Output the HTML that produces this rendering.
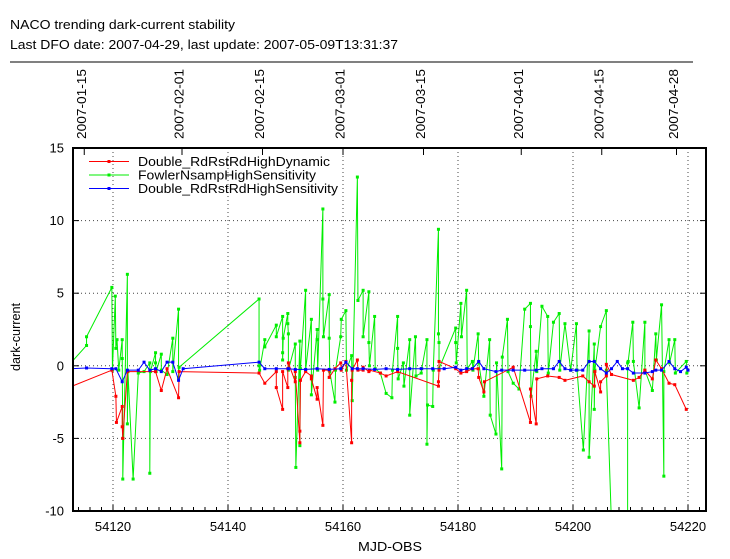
<!DOCTYPE html>
<html><head><meta charset="utf-8"><style>
body{margin:0;background:#fff;width:730px;height:554px;overflow:hidden;font-family:"Liberation Sans",sans-serif}
svg text{font-family:"Liberation Sans",sans-serif;fill:#000}
</style></head><body>
<svg id="chart" width="730" height="554" xmlns="http://www.w3.org/2000/svg">
<text x="10" y="29" font-size="13" textLength="225" lengthAdjust="spacingAndGlyphs">NACO trending dark-current stability</text>
<text x="10" y="49" font-size="13" textLength="388" lengthAdjust="spacingAndGlyphs">Last DFO date: 2007-04-29, last update: 2007-05-09T13:31:37</text>
<line x1="10" y1="62" x2="693" y2="62" stroke="#000" stroke-width="1"/>
<g id="grid"></g><g id="axes"></g>
<defs><clipPath id="clip"><rect x="73" y="148" width="633" height="363"/></clipPath></defs>
<g id="series" clip-path="url(#clip)"></g>
<rect x="73" y="148" width="633" height="363" fill="none" stroke="#000" stroke-width="2"/>
<g id="legend"></g>
<text x="20" y="337" font-size="13" textLength="68" lengthAdjust="spacingAndGlyphs" transform="rotate(-90 20 337)" text-anchor="middle">dark-current</text>
<text x="358" y="551" font-size="13" textLength="64" lengthAdjust="spacingAndGlyphs">MJD-OBS</text>
</svg>
<script>
const xTicks=[54120,54140,54160,54180,54200,54220];
const yTicks=[-10,-5,0,5,10,15];
const dateTicks=[54115,54132,54146,54160,54174,54191,54205,54218];
const dateLabels=["2007-01-15","2007-02-01","2007-02-15","2007-03-01","2007-03-15","2007-04-01","2007-04-15","2007-04-28"];
const seriesNames=["Double_RdRstRdHighDynamic","FowlerNsampHighSensitivity","Double_RdRstRdHighSensitivity"];
const seriesColors=["#ff0000","#00ee00","#0000ff"];
const legendWidths=[192,178,200];
const greenX=[54112.9,54115.4,54115.4,54119.8,54119.9,54120.4,54120.5,54120.7,54121.0,54121.6,54121.6,54121.7,54121.7,54122.5,54122.5,54122.6,54123.5,54124.4,54125.4,54126.4,54126.4,54126.5,54127.4,54127.4,54127.5,54128.4,54128.4,54129.4,54130.4,54130.4,54131.4,54131.4,54131.5,54145.4,54145.4,54145.5,54146.4,54146.4,54148.4,54148.4,54149.5,54149.5,54149.5,54149.6,54150.4,54150.4,54150.5,54150.5,54151.7,54151.7,54151.8,54152.5,54152.5,54152.6,54153.5,54153.5,54154.5,54154.5,54155.5,54155.5,54155.6,54156.5,54156.5,54156.6,54157.6,54157.6,54157.7,54158.6,54158.7,54159.6,54159.7,54160.5,54160.6,54161.5,54161.6,54162.5,54162.6,54163.5,54163.5,54164.5,54164.5,54164.6,54165.5,54165.6,54166.5,54167.5,54168.5,54168.6,54169.5,54169.5,54169.6,54170.5,54170.6,54171.6,54171.6,54172.6,54172.7,54173.6,54173.7,54174.6,54174.6,54174.7,54175.6,54175.7,54176.6,54176.6,54176.7,54176.7,54179.6,54179.6,54179.7,54180.5,54180.6,54181.5,54181.6,54182.5,54182.6,54183.5,54183.6,54184.5,54185.5,54185.6,54186.6,54186.7,54187.6,54187.7,54188.6,54188.7,54189.6,54190.6,54191.6,54192.6,54192.6,54192.7,54193.6,54193.7,54194.6,54195.6,54195.7,54196.6,54197.6,54197.7,54198.6,54199.6,54200.6,54200.7,54201.8,54202.8,54202.8,54203.7,54203.7,54203.8,54204.8,54205.8,54205.8,54206.7,54209.5,54209.5,54209.6,54210.4,54210.5,54211.5,54212.5,54212.5,54213.8,54214.4,54214.5,54215.4,54215.8,54215.8,54216.7,54216.8,54217.7,54217.8,54219.7,54219.8];
const greenY=[0.3,1.4,2.0,5.4,-0.3,4.8,1.2,1.8,-0.3,1.8,0.5,-5.0,-7.8,6.3,-4.0,-0.4,-7.8,-0.5,-0.4,0.2,-7.4,-0.4,0.9,0.2,-0.4,0.8,-0.3,-0.6,1.9,-0.4,3.9,-0.8,-0.1,4.6,0,-0.3,1.8,1.3,2.8,2.0,3.4,0.9,0.4,1.9,3.6,2.9,2.2,-0.3,1.5,-0.8,-7.0,1.7,-5.5,-0.2,5.2,-0.3,3.2,-2.0,2.5,1.8,-0.3,10.8,4.6,2.0,4.9,1.9,-0.4,-2.5,-0.3,2.0,3.2,3.8,-0.3,0.7,-2.4,13.0,4.5,5.2,2.0,5.1,1.6,0,3.4,-0.2,-0.5,-1.9,-2.2,-0.3,3.4,1.2,-0.9,0.2,-1.4,1.8,-3.4,2.0,-0.7,-0.5,-0.2,1.8,-5.4,-2.7,-2.8,-0.3,9.4,2.2,1.6,-0.2,2.6,1.6,0.2,4.3,2.0,5.2,-0.2,0.3,-0.3,2.2,0.2,-2.1,1.8,-3.4,-4.7,0.2,-7.1,0.6,3.2,-0.4,-1.2,-1.6,3.9,4.3,2.7,-2.1,1.0,-0.4,4.1,3.4,-0.5,3.0,3.6,-0.3,2.9,-0.3,2.9,-0.3,-5.8,2.4,-6.3,1.5,-3.0,-0.3,2.7,3.8,-0.3,-11,-11,0.2,0.3,3.0,0.3,-2.9,3.0,-0.3,-1.7,2.2,0.4,4.2,-7.6,-0.4,1.8,0.2,1.8,-0.5,0.3,-0.5];
const redX=[54112.9,54119.8,54120.5,54120.6,54121.6,54121.6,54121.7,54122.5,54127.4,54128.4,54129.4,54131.4,54131.5,54145.4,54146.4,54148.4,54148.4,54149.5,54149.5,54150.4,54150.4,54150.5,54151.7,54151.7,54152.5,54152.5,54152.6,54153.5,54154.5,54154.5,54155.5,54155.5,54156.5,54156.6,54157.6,54157.6,54158.6,54159.6,54159.7,54160.5,54161.5,54161.5,54161.6,54162.5,54162.6,54163.5,54163.5,54164.5,54164.6,54166.5,54167.5,54169.5,54176.6,54176.6,54176.7,54176.7,54179.6,54180.5,54181.5,54182.5,54183.5,54183.6,54184.5,54184.6,54189.6,54192.6,54192.6,54193.6,54193.7,54195.6,54197.6,54198.6,54201.7,54202.8,54203.7,54203.8,54204.8,54204.8,54205.8,54205.8,54206.7,54210.5,54211.5,54212.5,54213.8,54214.4,54215.4,54216.7,54217.7,54219.7];
const redY=[-1.4,-0.3,-2.1,-3.9,-2.8,-4.2,-5.0,-0.4,-0.4,-1.7,-0.2,-2.2,-0.4,-0.5,-1.2,-0.4,-1.5,-3.0,-0.4,-1.5,-0.2,0.2,-1.1,-0.4,-5.3,-4.5,-1.0,-0.4,-0.7,-0.9,-2.3,-1.5,-4.1,-0.3,-0.3,-0.8,-0.2,0.2,-0.3,0.3,-5.3,-1.0,-0.3,0.4,-0.3,-0.3,-0.1,-0.4,-0.3,-0.5,-0.7,-0.4,-1.4,-1.1,-0.3,0.3,-0.2,-0.5,-0.4,-0.2,-0.2,-0.8,-1.8,-1.1,-0.1,-3.9,-1.6,-4.0,-0.9,-0.7,-0.8,-1.0,-0.7,-1.1,-1.4,-0.4,-1.8,-1.1,-0.7,0.1,-0.6,-1.0,-0.8,-0.3,-0.9,0.4,-0.2,-1.2,-1.3,-3.0];
const blueX=[54112.9,54115.4,54119.8,54120.5,54121.6,54122.5,54124.4,54125.4,54126.4,54127.4,54128.4,54129.4,54130.4,54131.4,54132.2,54145.4,54146.4,54148.4,54150.5,54151.7,54153.5,54155.5,54157.6,54159.6,54160.5,54161.6,54162.5,54163.5,54165.5,54167.5,54169.5,54171.6,54173.6,54175.6,54177.6,54179.6,54180.5,54181.5,54182.5,54183.6,54184.5,54186.6,54187.6,54189.6,54191.6,54193.6,54194.6,54196.6,54197.6,54198.6,54199.6,54200.6,54201.7,54202.8,54203.7,54204.8,54205.8,54206.7,54207.7,54208.6,54209.5,54210.5,54212.5,54213.8,54214.4,54215.4,54216.7,54217.7,54218.7,54219.7,54220.0];
const blueY=[-0.2,-0.15,-0.2,-0.2,-1.1,-0.3,-0.3,0.25,-0.3,-0.2,-0.4,0.25,0.25,-1.0,-0.2,0.25,-0.2,-0.2,-0.2,-0.25,-0.25,-0.2,-0.25,-0.2,0.25,-0.2,-0.2,-0.2,-0.25,-0.2,-0.25,-0.2,-0.2,-0.2,-0.2,-0.1,-0.3,-0.2,-0.2,0.3,-0.2,-0.4,-0.3,-0.3,-0.3,-0.3,-0.2,-0.2,0.3,-0.2,-0.3,-0.3,-0.3,0.3,0.3,-0.2,-0.5,-0.2,0.3,-0.2,-0.2,-0.5,-0.5,-0.4,-0.3,-0.3,0.3,-0.2,-0.4,-0.1,-0.3];

const NS="http://www.w3.org/2000/svg";
const X=m=>113+(m-54120)*5.75;
const Y=v=>365.8-v*14.52;
function mk(tag,attrs,parent){const e=document.createElementNS(NS,tag);for(const k in attrs)e.setAttribute(k,attrs[k]);parent.appendChild(e);return e;}
const grid=document.getElementById('grid'),axes=document.getElementById('axes'),ser=document.getElementById('series'),leg=document.getElementById('legend');
xTicks.forEach(t=>{const x=X(t);
 if(t>54113&&t<54222){const g=mk('line',{x1:x,y1:148,x2:x,y2:511,stroke:'#444','stroke-dasharray':'1,3','stroke-width':1},grid);
 
 }
 const tx=mk('text',{x:x,y:531,'font-size':13,'text-anchor':'middle'},axes);tx.textContent=t;
 
 });
for(let m=54114;m<=54222;m+=2){const x=X(m);const big=(m%20===0);
 const l=mk('line',{x1:x,y1:511,x2:x,y2:511-(big?6:4),stroke:'#000'},axes);
 
 }
yTicks.forEach(t=>{const y=Y(t);
 if(t>-10&&t<15){const g=mk('line',{x1:73,y1:y,x2:706,y2:y,stroke:'#444','stroke-dasharray':'1,3','stroke-width':1},grid);
 
 }
 mk('line',{x1:73,y1:y,x2:79,y2:y,stroke:'#000'},axes);mk('line',{x1:700,y1:y,x2:706,y2:y,stroke:'#000'},axes);
 const tx=mk('text',{x:64,y:y+4.5,'font-size':13,'text-anchor':'end'},axes);tx.textContent=t;
 
 });
dateTicks.forEach((d,i)=>{const x=X(d);
 mk('line',{x1:x,y1:148,x2:x,y2:155,stroke:'#000'},axes);
 const tx=mk('text',{x:x+1.5,y:139,'font-size':13,textLength:70,lengthAdjust:'spacingAndGlyphs',transform:`rotate(-90 ${x+1.5} 139)`},axes);tx.textContent=dateLabels[i];
 
 });
function draw(xs,ys,color,name){
 const p=mk('polyline',{points:xs.map((m,i)=>X(m)+','+Y(ys[i])).join(' '),fill:'none',stroke:color,'stroke-width':1},ser);
 
 
 xs.forEach((m,i)=>{const c=mk('rect',{x:X(m)-1.5,y:Y(ys[i])-1.5,width:3,height:3,fill:color},ser);
 
 });
}
draw(greenX,greenY,seriesColors[1],'fowler-series');
draw(redX,redY,seriesColors[0],'dynamic-series');
draw(blueX,blueY,seriesColors[2],'sensitivity-series');
seriesNames.forEach((n,i)=>{const y=161.5+i*13.5;
 const l=mk('line',{x1:89,y1:y,x2:129,y2:y,stroke:seriesColors[i],'stroke-width':1},leg);
 
 
 mk('rect',{x:107.5,y:y-1.5,width:3,height:3,fill:seriesColors[i]},leg);
 const t=mk('text',{x:138,y:y+4.5,'font-size':13,textLength:legendWidths[i],lengthAdjust:'spacingAndGlyphs'},leg);t.textContent=n;
 
 });
</script>
</body></html>
